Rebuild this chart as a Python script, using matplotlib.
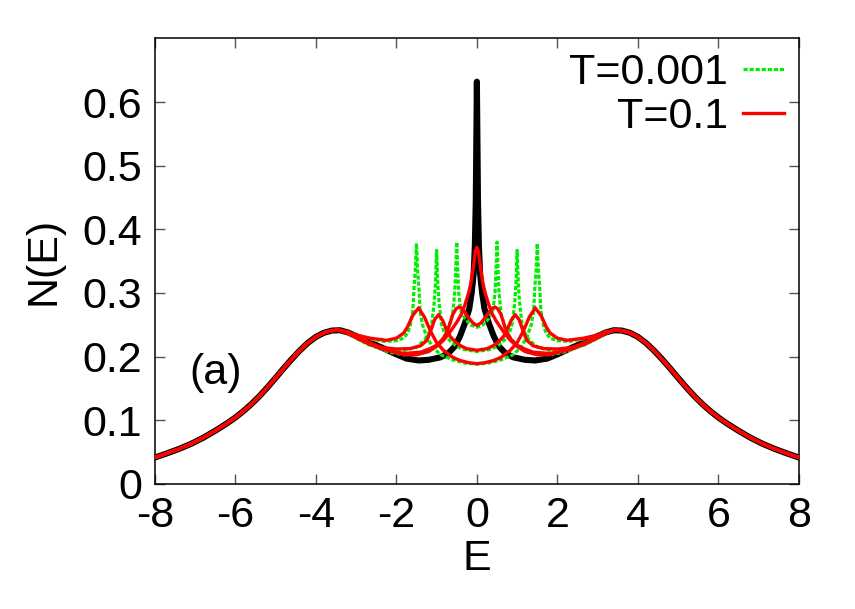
"""
N(E) curves, panel (a)
"""

import numpy as np
import matplotlib
matplotlib.use("Agg")
from matplotlib import pyplot as plt

# outer band, shared by all curves (E >= 3.4, mirrored for E <= -3.4)
E_band = [3.4, 3.6, 3.8, 4.0, 4.2, 4.4, 4.6, 4.8, 5.0, 5.2, 5.4, 5.6, 5.8, 6.0,
          6.2, 6.5, 6.8, 7.1, 7.4, 7.7, 8.0]
N_band = [0.2415, 0.2410, 0.2375, 0.2310, 0.2215, 0.2095, 0.1960, 0.1815, 0.1665,
          0.1518, 0.1380, 0.1255, 0.1143, 0.1043, 0.0955, 0.0835, 0.0725, 0.0630,
          0.0550, 0.0480, 0.0415]

# central part, E >= 0 (curves are symmetric in E)
E_black = [0, 0.015, 0.027, 0.05, 0.08, 0.13, 0.19, 0.3, 0.42, 0.55, 0.7, 0.9,
           1.2, 1.45, 1.75, 2.05, 2.35, 2.65, 2.95, 3.2]
N_black = [0.632, 0.53, 0.445, 0.375, 0.33, 0.30, 0.275, 0.252, 0.232, 0.216,
           0.206, 0.199, 0.195, 0.194, 0.197, 0.205, 0.214, 0.222, 0.231, 0.238]

# T=0.001
E_g1 = [0, 0.15, 0.3, 0.4, 0.45, 0.47, 0.5, 0.53, 0.55, 0.6, 0.7, 0.8, 1.0, 1.2,
        1.5, 1.8, 2.1, 2.4, 2.7, 3.0, 3.2]
N_g1 = [0.246, 0.25, 0.26, 0.273, 0.30, 0.33, 0.38, 0.33, 0.30, 0.268, 0.245,
        0.232, 0.217, 0.209, 0.204, 0.203, 0.206, 0.212, 0.220, 0.229, 0.237]
E_g2 = [0, 0.3, 0.5, 0.7, 0.8, 0.88, 0.94, 0.97, 1.0, 1.03, 1.06, 1.12, 1.2, 1.3,
        1.5, 1.8, 2.1, 2.4, 2.7, 3.0, 3.2]
N_g2 = [0.208, 0.211, 0.216, 0.227, 0.236, 0.252, 0.285, 0.315, 0.367, 0.315,
        0.285, 0.252, 0.236, 0.226, 0.215, 0.210, 0.210, 0.213, 0.219, 0.229, 0.237]
E_g3 = [0, 0.3, 0.6, 0.9, 1.1, 1.25, 1.35, 1.41, 1.44, 1.47, 1.5, 1.53, 1.56,
        1.59, 1.65, 1.72, 1.82, 2.0, 2.3, 2.65, 3.0, 3.2]
N_g3 = [0.188, 0.19, 0.195, 0.203, 0.215, 0.232, 0.25, 0.272, 0.309, 0.335,
        0.378, 0.335, 0.309, 0.272, 0.25, 0.237, 0.229, 0.225, 0.224, 0.228,
        0.234, 0.239]

# T=0.1
E_r0 = [0, 0.04, 0.087, 0.15, 0.21, 0.3, 0.375, 0.48, 0.58, 0.7, 0.83, 1.0, 1.2,
        1.5, 1.8, 2.1, 2.4, 2.7, 3.0, 3.2]
N_r0 = [0.372, 0.365, 0.341, 0.315, 0.299, 0.281, 0.268, 0.256, 0.2466, 0.236,
        0.2257, 0.216, 0.208, 0.203, 0.203, 0.208, 0.215, 0.223, 0.231, 0.237]
E_r1 = [0, 0.1, 0.2, 0.3, 0.38, 0.45, 0.52, 0.6, 0.68, 0.75, 0.85, 1.0, 1.16,
        1.4, 1.8, 2.1, 2.4, 2.7, 3.0, 3.2]
N_r1 = [0.249, 0.253, 0.261, 0.270, 0.276, 0.278, 0.275, 0.266, 0.25, 0.238,
        0.227, 0.218, 0.2127, 0.207, 0.205, 0.208, 0.213, 0.221, 0.230, 0.237]
E_r2 = [0, 0.25, 0.4, 0.55, 0.665, 0.75, 0.85, 0.95, 1.05, 1.15, 1.24, 1.4, 1.66,
        2.0, 2.3, 2.65, 3.0, 3.2]
N_r2 = [0.21, 0.2125, 0.217, 0.224, 0.232, 0.242, 0.257, 0.266, 0.258, 0.240,
        0.2257, 0.217, 0.2127, 0.212, 0.214, 0.219, 0.230, 0.237]
E_r3 = [0, 0.2, 0.42, 0.6, 0.83, 1.0, 1.16, 1.3, 1.45, 1.6, 1.72, 1.82, 2.0, 2.24,
        2.65, 3.0, 3.2]
N_r3 = [0.189, 0.1905, 0.194, 0.199, 0.21, 0.222, 0.241, 0.262, 0.2765, 0.264,
        0.247, 0.237, 0.229, 0.2257, 0.229, 0.234, 0.239]


def full_curve(e_half, n_half):
    # join center + band, then mirror to negative E
    e = np.concatenate([e_half, E_band])
    n = np.concatenate([n_half, N_band])
    e = np.concatenate([-e[::-1][:-1], e])
    n = np.concatenate([n[::-1][:-1], n])
    return e, n


FS = 31

plt.rcParams['font.family'] = ['Liberation Sans', 'DejaVu Sans']
plt.rcParams['axes.unicode_minus'] = False
fig = plt.figure(figsize=(8.55, 6.09), dpi=100)
ax = fig.add_axes([0.181, 0.2053, 0.7535, 0.7317])

e, n = full_curve(E_black, N_black)
ax.plot(e, n, color='black', lw=4.4, solid_joinstyle='round', zorder=2)

dots = (0, (1.3, 0.6))
for i, (eh, nh) in enumerate([(E_g1, N_g1), (E_g2, N_g2), (E_g3, N_g3)]):
    e, n = full_curve(eh, nh)
    ax.plot(e, n, color='#00ee00', lw=2.3, linestyle=dots, dash_capstyle='butt',
            label='T=0.001' if i == 0 else None, zorder=3)

for i, (eh, nh) in enumerate([(E_r0, N_r0), (E_r1, N_r1), (E_r2, N_r2), (E_r3, N_r3)]):
    e, n = full_curve(eh, nh)
    ax.plot(e, n, color='#ff0000', lw=2.4, solid_joinstyle='round',
            label='T=0.1' if i == 0 else None, zorder=4)

ax.set_xlim(-8, 8)
ax.set_ylim(0, 0.7)
ax.set_xticks(range(-8, 9, 2))
ax.set_yticks([0, 0.1, 0.2, 0.3, 0.4, 0.5, 0.6])
ax.set_yticklabels(['0', '0.1', '0.2', '0.3', '0.4', '0.5', '0.6'])
ax.tick_params(direction='in', top=True, right=True, length=7, width=1,
               color='#555555', labelsize=FS, pad=9)
for s in ax.spines.values():
    s.set_linewidth(1.1)

ax.set_xlabel('E', fontsize=FS, labelpad=2)
ax.set_ylabel('N(E)', fontsize=FS, labelpad=14)
ax.text(-6.5, 0.175, '(a)', fontsize=FS, ha='center', va='center')

ax.legend(loc='upper right', markerfirst=False, frameon=False, fontsize=FS,
          handlelength=0.95, handletextpad=0.35, labelspacing=0.08,
          borderaxespad=0.15, borderpad=0.2)

plt.savefig('out.png', dpi=100)
plt.close()
